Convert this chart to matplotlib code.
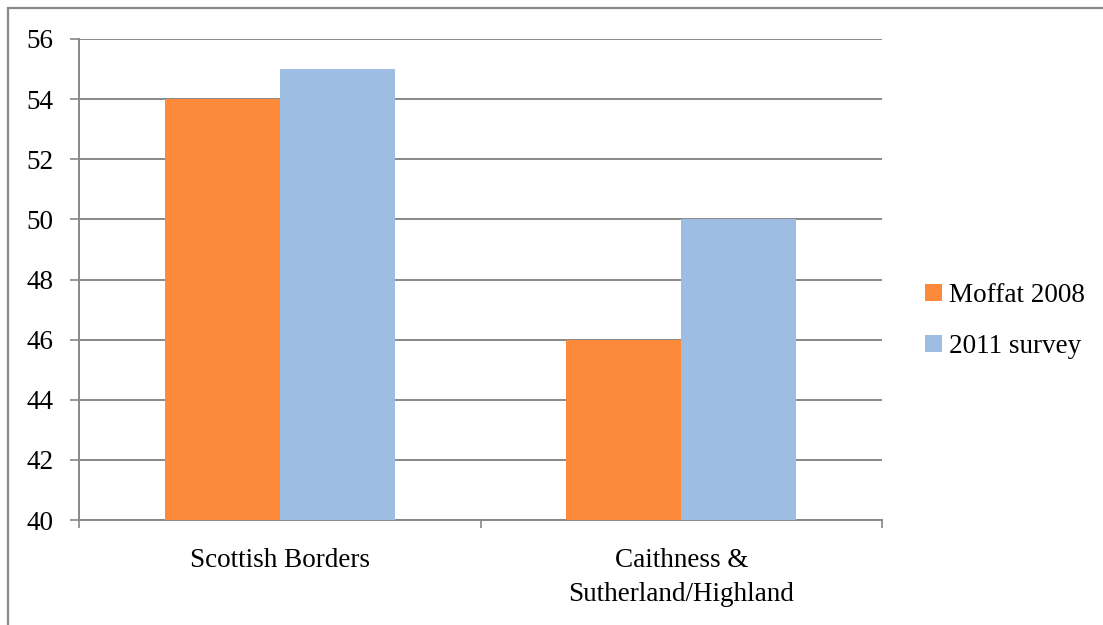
import matplotlib.pyplot as plt
from matplotlib.patches import Rectangle
from matplotlib.ticker import FixedLocator
import numpy as np

categories = ['Scottish Borders', 'Caithness &\nSutherland/Highland']
moffat_2008 = [54, 46]
survey_2011 = [55, 50]
series_names = ['Moffat 2008', '2011 survey']
yticks = [40, 42, 44, 46, 48, 50, 52, 54, 56]

orange = '#FD8A3B'
blue = '#9DBDE3'
grey = '#888888'

plt.rcParams['font.family'] = ['Liberation Serif', 'DejaVu Serif']

fig = plt.figure(figsize=(11.03, 6.25), dpi=100)
ax = fig.add_axes([79 / 1103, 1 - 520 / 625, (882 - 79) / 1103, (520 - 39) / 625])

# outer chart frame (only left and top edges visible in the crop)
fig.patches.append(Rectangle((8 / 1103, -0.1), 1.2, 1 - 8 / 625 + 0.1,
                             transform=fig.transFigure, fill=False,
                             edgecolor=grey, linewidth=1.6))

x = np.arange(len(categories))
w = 0.286
ax.bar(x - w / 2, moffat_2008, width=w, color=orange, label=series_names[0], zorder=3)
ax.bar(x + w / 2, survey_2011, width=w, color=blue, label=series_names[1], zorder=3)

ax.set_xlim(-0.5, len(categories) - 0.5)
ax.set_ylim(40, 56)
ax.set_yticks(yticks)
ax.grid(axis='y', color=grey, linewidth=1.4, zorder=0)

ax.set_xticks(x)
ax.set_xticklabels(categories, fontsize=19.5, linespacing=1.5)
ax.xaxis.set_minor_locator(FixedLocator(np.arange(len(categories) + 1) - 0.5))
ax.tick_params(axis='x', which='major', length=0, pad=20)
ax.tick_params(axis='x', which='minor', length=6, width=1.2, color=grey, direction='out')
ax.tick_params(axis='y', length=6.5, width=1.2, color=grey, labelsize=19.5, pad=12)

for s in ['top', 'right']:
    ax.spines[s].set_visible(False)
for s in ['left', 'bottom']:
    ax.spines[s].set_color(grey)
    ax.spines[s].set_linewidth(1.4)

fig.legend(loc='center left', bbox_to_anchor=(901 / 1103, 1 - 321 / 625),
           frameon=False, fontsize=19.5, handlelength=0.62, handleheight=0.62,
           handletextpad=0.25, labelspacing=0.95)

fig.savefig('out.png', dpi=100)
